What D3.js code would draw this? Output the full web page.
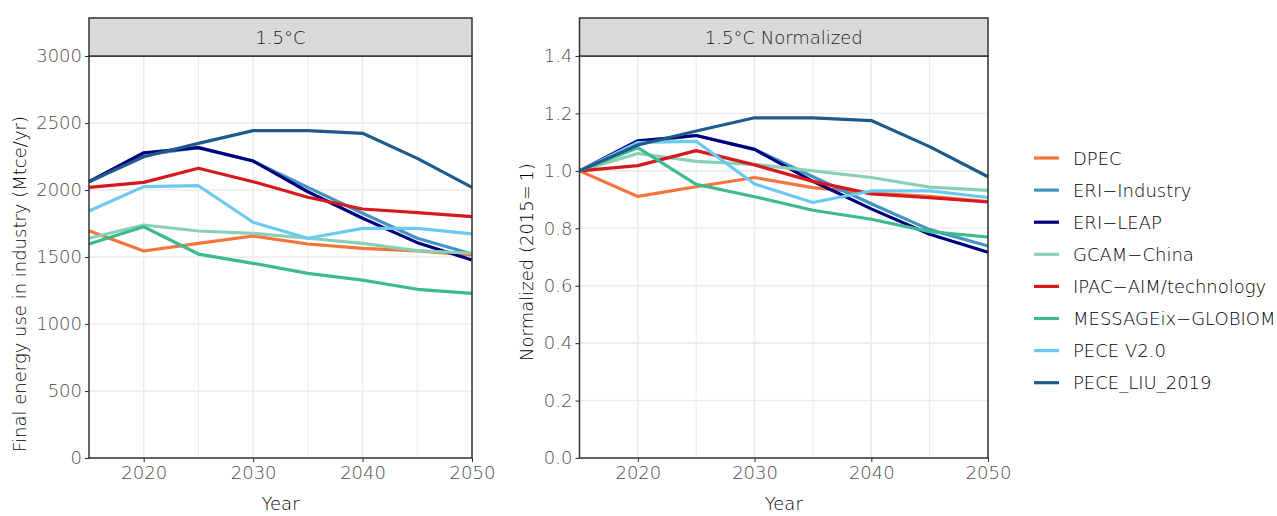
<!DOCTYPE html>
<html><head><meta charset="utf-8">
<script src="https://cdn.jsdelivr.net/npm/d3@7"></script>
<style>body{margin:0;background:#fff;} svg{display:block;font-family:"DejaVu Sans",sans-serif;font-weight:200;}</style>
</head><body>
<svg id="c" width="1277" height="516"></svg>
<script>
const years = [2015, 2020, 2025, 2030, 2035, 2040, 2045, 2050];
const models = ["DPEC","ERI\u2212Industry","ERI\u2212LEAP","GCAM\u2212China","IPAC\u2212AIM/technology","MESSAGEix\u2212GLOBIOM","PECE V2.0","PECE_LIU_2019"];
const colors = ["#f4743b","#4393c3","#00007f","#88d1b7","#d7191c","#3dbb8f","#6cc9f1","#1f5a8a"];
const dpec    = [1696, 1545, 1602, 1657, 1597, 1565, 1545, 1515];
const eriInd  = [2062, 2262, 2316, 2216, 2020, 1826, 1640, 1522];
const eriLeap = [2062, 2278, 2316, 2216, 1987, 1789, 1607, 1478];
const gcam    = [1640, 1739, 1694, 1677, 1640, 1602, 1547, 1528];
const ipac    = [2020, 2057, 2162, 2062, 1946, 1858, 1831, 1801];
const message = [1597, 1726, 1522, 1453, 1378, 1328, 1259, 1229];
const peceV2  = [1843, 2025, 2032, 1759, 1640, 1714, 1714, 1672];
const peceLiu = [2062, 2248, 2348, 2443, 2443, 2423, 2236, 2020];
const seriesVals = [dpec, eriInd, eriLeap, gcam, ipac, message, peceV2, peceLiu];
const leftYTicks = [0, 500, 1000, 1500, 2000, 2500, 3000];
const rightYTicks = [0, 0.2, 0.4, 0.6, 0.8, 1.0, 1.2, 1.4];
const xTicks = [2020, 2030, 2040, 2050];
const xMinor = [2025, 2035, 2045];
const panelTitles = ["1.5°C", "1.5°C Normalized"];
const yTitles = ["Final energy use in industry (Mtce/yr)", "Normalized (2015=\u20091)"];

const svg = d3.select("#c");
const pTop = 56, pBottom = 458;
const panels = [
  {x0: 89, x1: 472, yDomain: [0, 3000], ticks: leftYTicks, fmt: d3.format("d"), norm: false, yTitleX: 26, yTitleC: 284},
  {x0: 579.5, x1: 988, yDomain: [0, 1.4], ticks: rightYTicks, fmt: d3.format(".1f"), norm: true, yTitleX: 533, yTitleC: 262}
];
panels.forEach((p, pi) => {
  const x = d3.scaleLinear().domain([2015, 2050]).range([p.x0, p.x1]);
  const y = d3.scaleLinear().domain(p.yDomain).range([pBottom, pTop]);
  const g = svg.append("g");
  g.selectAll(".gm").data(xMinor).join("line").attr("x1", d=>x(d)).attr("x2", d=>x(d)).attr("y1", pTop).attr("y2", pBottom).attr("stroke", "#ebebeb").attr("stroke-width", 1);
  g.selectAll(".gx").data(xTicks).join("line").attr("x1", d=>x(d)).attr("x2", d=>x(d)).attr("y1", pTop).attr("y2", pBottom).attr("stroke", "#ebebeb").attr("stroke-width", 1.6);
  g.selectAll(".gy").data(p.ticks).join("line").attr("x1", p.x0).attr("x2", p.x1).attr("y1", d=>y(d)).attr("y2", d=>y(d)).attr("stroke", "#ebebeb").attr("stroke-width", 1.6);
  const line = d3.line().x((d,i)=>x(years[i])).y(d=>y(d));
  seriesVals.forEach((vals, si) => {
    const v = p.norm ? vals.map(d => d / vals[0]) : vals;
    g.append("path").datum(v).attr("d", line).attr("fill", "none").attr("stroke", colors[si]).attr("stroke-width", 3.2).attr("stroke-linejoin", "round");
  });
  const ax = g.append("g").attr("transform", `translate(0,${pBottom})`).call(d3.axisBottom(x).tickValues(xTicks).tickFormat(d3.format("d")).tickSize(4).tickPadding(4));
  const ay = g.append("g").attr("transform", `translate(${p.x0},0)`).call(d3.axisLeft(y).tickValues(p.ticks).tickFormat(p.fmt).tickSize(4).tickPadding(3));
  [ax, ay].forEach(a => {
    a.select(".domain").remove();
    a.selectAll("line").attr("stroke", "#333").attr("stroke-width", 1.1);
    a.selectAll("text").attr("fill", "#4d4d4d").style("font-size", "18px").style("font-family", '"DejaVu Sans",sans-serif').style("font-weight", 200);
  });
  g.append("rect").attr("x", p.x0).attr("y", pTop).attr("width", p.x1 - p.x0).attr("height", pBottom - pTop).attr("fill", "none").attr("stroke", "#333").attr("stroke-width", 1.5);
  g.append("rect").attr("x", p.x0).attr("y", 18).attr("width", p.x1 - p.x0).attr("height", pTop - 18).attr("fill", "#d9d9d9").attr("stroke", "#333").attr("stroke-width", 1.5);
  g.append("text").attr("x", (p.x0 + p.x1) / 2).attr("y", 44).attr("text-anchor", "middle").attr("fill", "#1a1a1a").style("font-size", "18px").text(panelTitles[pi]);
  g.append("text").attr("x", (p.x0 + p.x1) / 2).attr("y", 510).attr("text-anchor", "middle").attr("fill", "#000").style("font-size", "18px").text("Year");
  g.append("text").attr("transform", `translate(${p.yTitleX},${p.yTitleC}) rotate(-90)`).attr("text-anchor", "middle").attr("fill", "#000").style("font-size", "18px").text(yTitles[pi]);
});
const lg = svg.append("g");
models.forEach((m, i) => {
  const yy = 158 + i * 32.1;
  lg.append("line").attr("x1", 1034).attr("x2", 1059).attr("y1", yy).attr("y2", yy).attr("stroke", colors[i]).attr("stroke-width", 3.2);
  lg.append("text").attr("x", 1073).attr("y", yy + 6.5).attr("fill", "#000").style("font-size", "18px").text(m);
});
</script>
</body></html>
